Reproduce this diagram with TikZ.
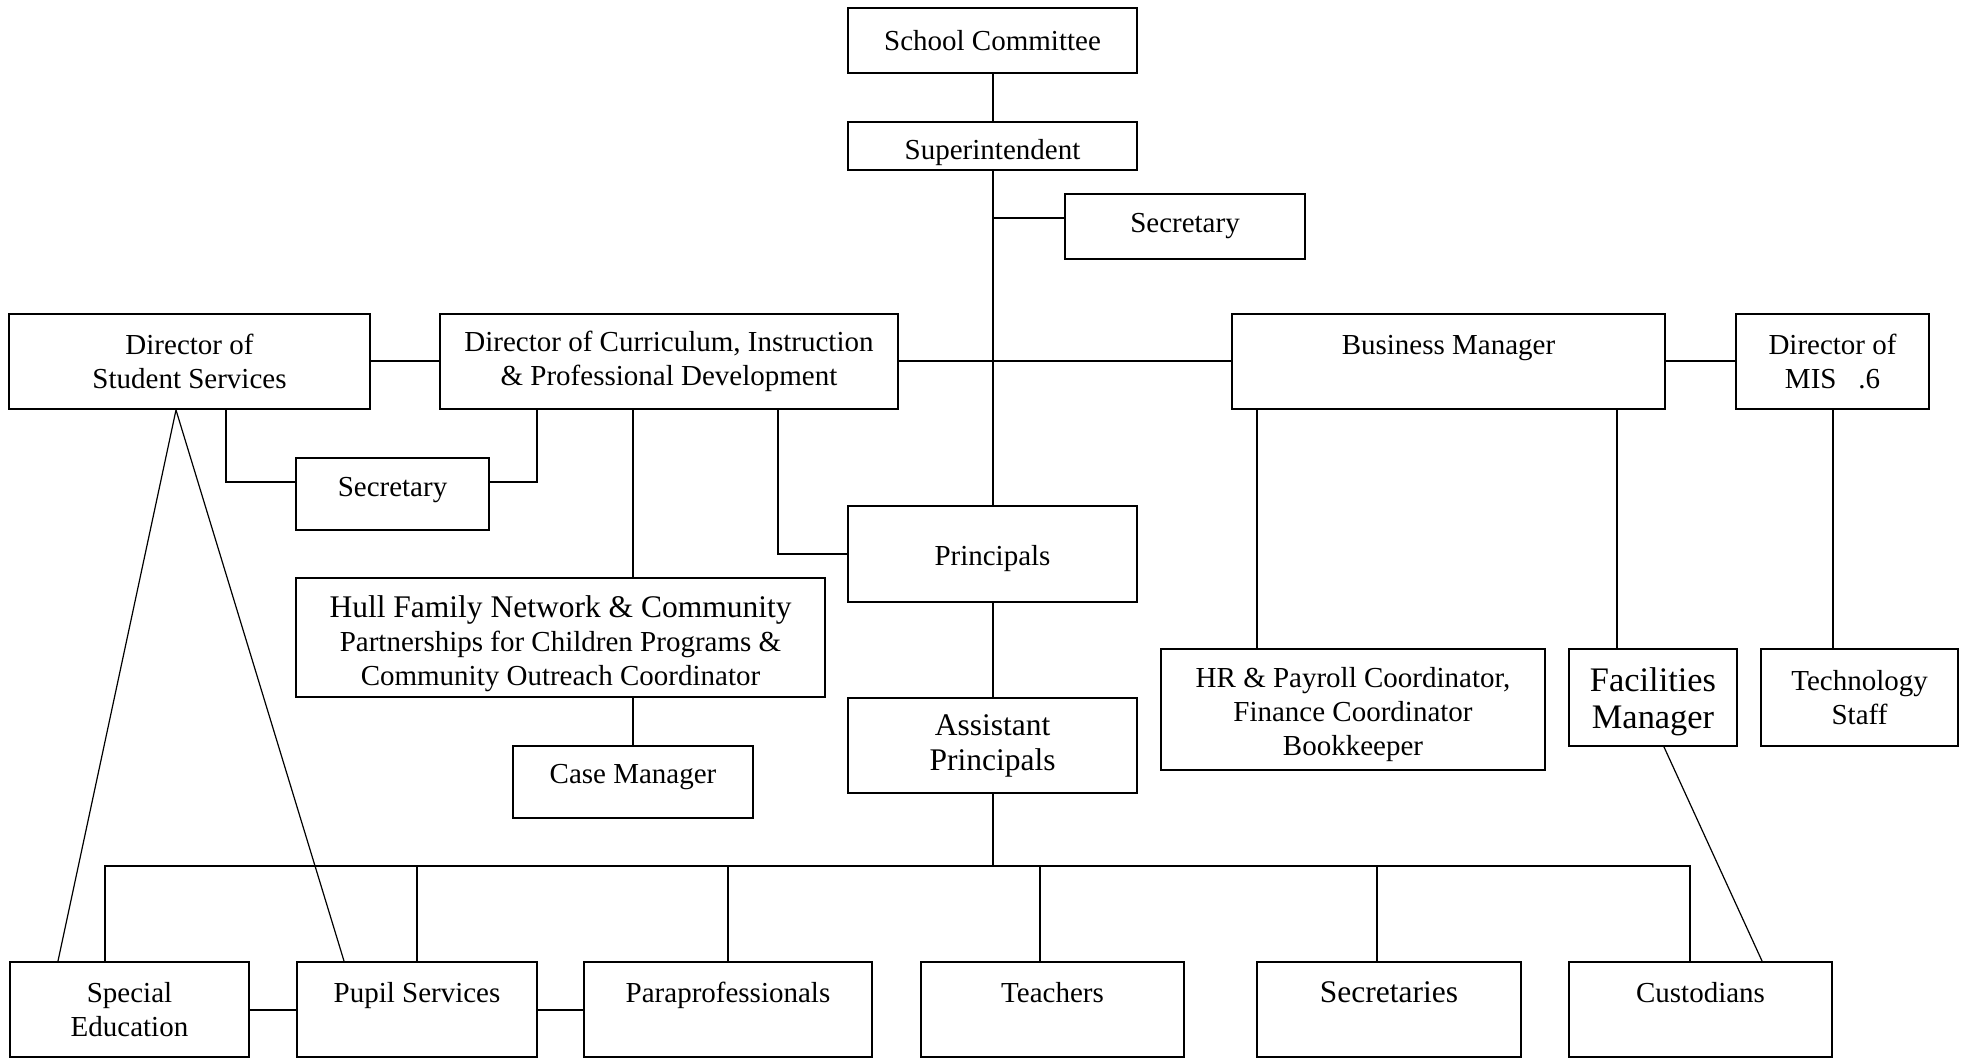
\documentclass[tikz,border=0pt]{standalone}
\usepackage{fontspec}
\setmainfont{Liberation Serif}
\usetikzlibrary{positioning}

\begin{document}
\begin{tikzpicture}[x=1pt, y=-1pt]
    % Setup the styles for the boxes and the lines
    \tikzset{box style/.style={draw,
                               rectangle,
                               line width=1pt,
                               inner sep=0pt,
                               align=center,
                               font=\fontsize{14.5}{17}\selectfont},
             big text/.style={font=\fontsize{15.75}{17.5}\selectfont},
             line style/.style={line width=1pt},
             thin line/.style={line width=0.6pt}}

    \useasboundingbox (0, 0) rectangle (981, 529);

    % Draw the boxes
    \node[box style, minimum width=144.5pt, minimum height=32.5pt] at (496.25, 20.25)  (committee)  {School Committee};
    \node[box style, minimum width=144.5pt, minimum height=24pt]   at (496.25, 73)     (super)      {\raisebox{-7pt}[0pt][0pt]{Superintendent}};
    \node[box style, minimum width=120pt,   minimum height=32.5pt] at (592.5, 113.25)  (sectop)     {Secretary};
    \node[box style, minimum width=180.5pt, minimum height=47.5pt] at (94.75, 180.75)  (dss)        {Director of\\Student Services};
    \node[box style, minimum width=229pt,   minimum height=47.5pt] at (334.5, 180.75)  (dci)        {Director of Curriculum, Instruction\\\& Professional Development};
    \node[box style, minimum width=216.5pt, minimum height=47.5pt] at (724.25, 180.75) (business)   {Business Manager\\~};
    \node[box style, minimum width=96.5pt,  minimum height=47.5pt] at (916.25, 180.75) (mis)        {Director of\\MIS~~~.6};
    \node[box style, minimum width=96.5pt,  minimum height=36pt]   at (196.25, 247)    (seclow)     {Secretary\rule[-7pt]{0pt}{0pt}};
    \node[box style, minimum width=144.5pt, minimum height=48pt]   at (496.25, 277)    (principals) {\rule{0pt}{15pt}Principals};
    \node[box style, minimum width=264.5pt, minimum height=59.5pt] at (280.25, 318.75) (hull)
        {\rule{0pt}{17.5pt}{\fontsize{15.75}{18}\selectfont Hull Family Network \& Community}\\Partnerships for Children Programs \&\\Community Outreach Coordinator};
    \node[box style, minimum width=120pt,   minimum height=36pt]   at (316.5, 391)     (casemgr)    {Case Manager\rule[-8.2pt]{0pt}{0pt}};
    \node[box style, big text, minimum width=144.5pt, minimum height=47.5pt] at (496.25, 372.75) (assistants) {Assistant\\Principals};
    \node[box style, minimum width=192pt,   minimum height=60.5pt] at (676.5, 354.75)  (hr)         {\rule{0pt}{15.5pt}HR \& Payroll Coordinator,\\Finance Coordinator\\Bookkeeper};
    \node[box style, minimum width=84pt,    minimum height=48.5pt, font=\fontsize{17.2}{18.5}\selectfont] at (826.5, 348.75) (facilities) {\rule{0pt}{16pt}Facilities\\Manager};
    \node[box style, minimum width=98.5pt,  minimum height=48.5pt] at (929.75, 348.75) (tech)       {Technology\\Staff};

    % Bottom row
    \node[box style, minimum width=119.5pt, minimum height=47.5pt] at (64.75, 504.75)  (special)    {Special\\Education};
    \node[box style, minimum width=120pt,   minimum height=47.5pt] at (208.5, 504.75)  (pupil)      {Pupil Services\\~};
    \node[box style, minimum width=144pt,   minimum height=47.5pt] at (364, 504.75)    (para)       {Paraprofessionals\\~};
    \node[box style, minimum width=131.5pt, minimum height=47.5pt] at (526.25, 504.75) (teachers)   {Teachers\\~};
    \node[box style, big text, minimum width=132pt, minimum height=47.5pt] at (694.5, 504.75) (secretaries) {Secretaries\\~};
    \node[box style, minimum width=131.5pt, minimum height=47.5pt] at (850.25, 504.75) (custodians) {Custodians\\~};

    \coordinate (bus) at (496.25, 433);

    % Connect the boxes
    \draw[line style]
        (committee) -- (super)
        (super) -- (principals)
        (principals) -- (assistants)
        (assistants) -- (bus)
        ([yshift=4pt]sectop.west) -| (super.south)
        (dss) -- (dci)
        (dci) -- (business)
        (business) -- (mis)
        ([xshift=18.25pt]dss.south) |- ([yshift=6pt]seclow.west)
        ([yshift=6pt]seclow.east) -| ([xshift=-66pt]dci.south)
        ([xshift=-18pt]dci.south) -- ([xshift=36.25pt]hull.north)
        ([xshift=36.25pt]hull.south) -- (casemgr.north)
        ([xshift=54.5pt]dci.south) |- (principals.west)
        ([xshift=-95.75pt]business.south) -- ([xshift=-48pt]hr.north)
        ([xshift=84.25pt]business.south) -- ([xshift=-18pt]facilities.north)
        (mis.south) -- (mis.south |- tech.north)
        (special) -- (pupil)
        (pupil) -- (para);

    % The bus to the bottom row
    \draw[line width=1.2pt] ([xshift=-12.25pt]special.north) |- (bus) -| ([xshift=-5.25pt]custodians.north);
    \draw[line style]
        (pupil.north) -- (pupil.north |- bus)
        ([xshift=-6.25pt]teachers.north) -- ([xshift=-6.25pt]teachers.north |- bus);
    \draw[thin line]
        (para.north) -- (para.north |- bus)
        ([xshift=-6pt]secretaries.north) -- ([xshift=-6pt]secretaries.north |- bus);

    % Slanted lines
    \draw[thin line]
        ([xshift=-6.75pt]dss.south) -- ([xshift=-35.75pt]special.north)
        ([xshift=-6.75pt]dss.south) -- ([xshift=-36.5pt]pupil.north)
        ([xshift=5.5pt]facilities.south) -- ([xshift=30.75pt]custodians.north);
\end{tikzpicture}
\end{document}
